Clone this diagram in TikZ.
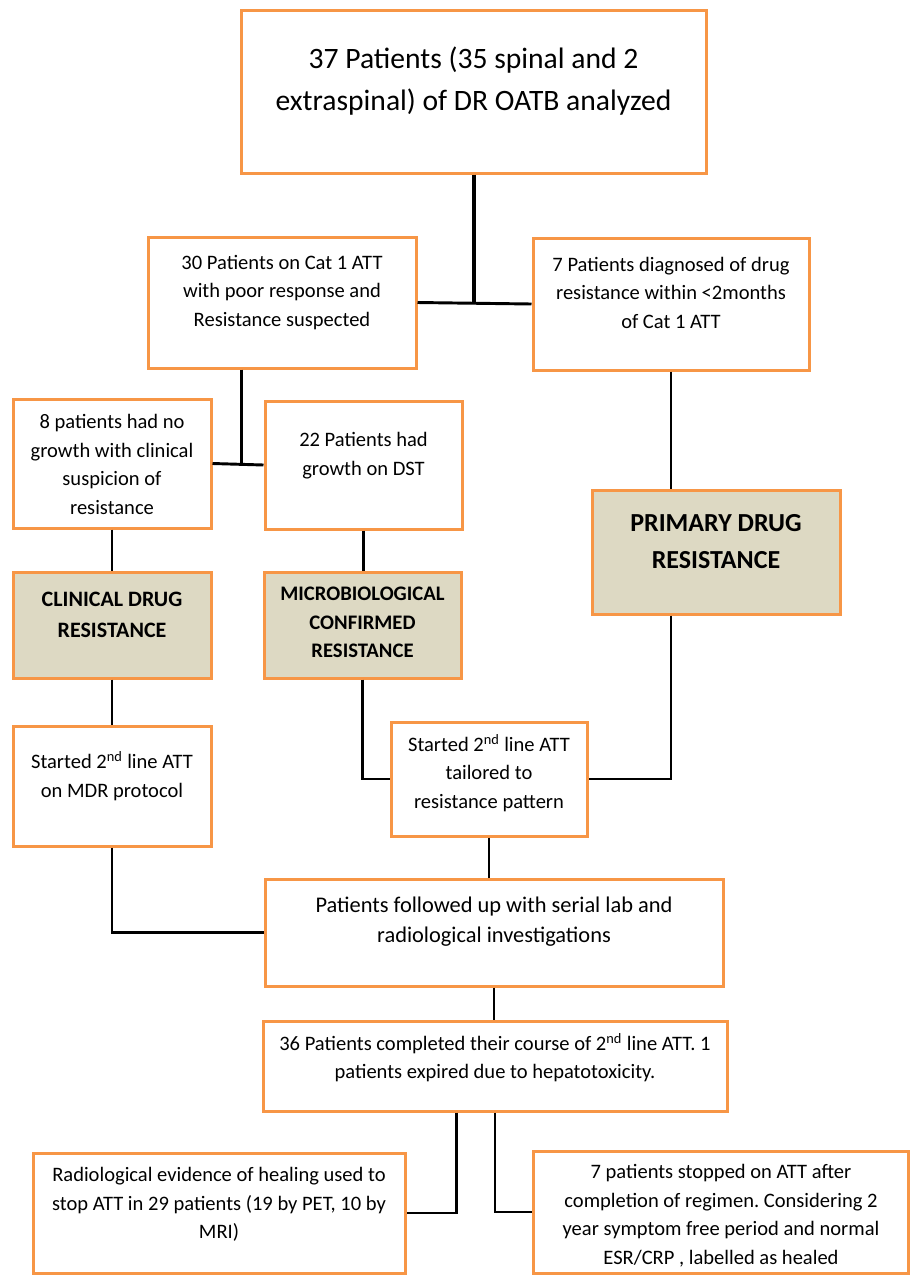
\documentclass[tikz,border=0pt]{standalone}
\usepackage{fontspec}
\setmainfont{Carlito}
\frenchspacing
\usetikzlibrary{fit,calc}
\definecolor{boxorange}{HTML}{F79646}
\definecolor{boxtan}{HTML}{DDD9C3}
\begin{document}
\begin{tikzpicture}[x=0.75pt,y=-0.75pt,
  box/.style={draw=boxorange,line width=2.25pt,inner sep=0pt,fill=white},
  tanbox/.style={box,fill=boxtan},
  txt/.style={align=center,inner sep=0pt,font=\fontsize{15.4}{21.4}\selectfont},
  bigtxt/.style={align=center,inner sep=0pt,font=\fontsize{22.2}{31.5}\selectfont},
  boldtxt/.style={align=center,inner sep=0pt,font=\bfseries\fontsize{16.5}{23.2}\selectfont},
  conn/.style={draw=black,line width=1.6pt},
  thickconn/.style={draw=black,line width=2.6pt}]
\useasboundingbox (0,0) rectangle (912,1275);
% boxes
\node[box,fit={(241,10) (706,173)}] (b1) {};
\node[box,fit={(148,237) (416,368)}] (b2) {};
\node[box,fit={(533,238) (809,370)}] (b3) {};
\node[box,fit={(13,399) (211,528)}] (b4) {};
\node[box,fit={(265,401) (462,529)}] (b5) {};
\node[tanbox,fit={(592,490) (840,614)}] (b6) {};
\node[tanbox,fit={(13,572) (211,678)}] (b7) {};
\node[tanbox,fit={(264,572) (461,678)}] (b8) {};
\node[box,fit={(13,726) (211,846)}] (b9) {};
\node[box,fit={(391,722) (587,836)}] (b10) {};
\node[box,fit={(265,879) (723,986)}] (b11) {};
\node[box,fit={(263,1021) (727,1111)}] (b12) {};
\node[box,fit={(33,1153) (405,1273)}] (b13) {};
\node[box,fit={(533,1151) (908,1273)}] (b14) {};
% texts
\node[bigtxt] (t1) at (473.5,81) {37 Patients (35 spinal and 2\\extraspinal) of DR OATB analyzed};
\node[txt] (t2) at (282,292.5) {30 Patients on Cat 1 ATT\\with poor response and\\Resistance suspected};
\node[txt] (t3) at (671,292.5) {7 Patients diagnosed of drug\\resistance within <2months\\of Cat 1 ATT};
\node[txt] (t4) at (112,464.5) {8 patients had no\\growth with clinical\\suspicion of\\resistance};
\node[txt] (t5) at (363.5,455.5) {22 Patients had\\growth on DST};
\node[boldtxt,font=\bfseries\fontsize{19.5}{27.7}\selectfont] (t6) at (716,541.5) {PRIMARY DRUG\\RESISTANCE};
\node[boldtxt] (t7) at (112,614.5) {CLINICAL DRUG\\RESISTANCE};
\node[boldtxt,font=\bfseries\fontsize{15.5}{21.4}\selectfont] (t8) at (362.5,622.5) {MICROBIOLOGICAL\\CONFIRMED\\RESISTANCE};
\node[txt] (t9) at (112,776) {Started 2\textsuperscript{nd} line ATT\\on MDR protocol};
\node[txt] (t10) at (489,773) {Started 2\textsuperscript{nd} line ATT\\tailored to\\resistance pattern};
\node[txt,font=\fontsize{16.8}{22.5}\selectfont] (t11) at (494,922) {Patients followed up with serial lab and\\radiological investigations};
\node[txt] (t12) at (495,1057.5) {36 Patients completed their course of 2\textsuperscript{nd} line ATT. 1\\patients expired due to hepatotoxicity.};
\node[txt] (t13) at (219,1204.5) {Radiological evidence of healing used to\\stop ATT in 29 patients (19 by PET, 10 by\\MRI)};
\node[txt] (t14) at (721,1215.5) {7 patients stopped on ATT after\\completion of regimen. Considering 2\\year symptom free period and normal\\ESR/CRP , labelled as healed};
% connectors
\draw[thickconn,line width=3pt] (b1.south) -- (b1.south |- b2.east);
\draw[thickconn,line width=2.2pt] (b2.east) -- (b3.west);
\coordinate (c2) at ($(b2.south west)!0.35!(b2.south east)$);
\draw[thickconn,line width=2.4pt] (c2) -- (c2 |- b4.east);
\draw[thickconn,line width=2.2pt] (b4.east) -- (b5.west);
\draw[conn] (b3.south) -- (b3.south |- b6.north);
\draw[conn] (b4.south) -- (b4.south |- b7.north);
\draw[conn] (b5.south) -- (b5.south |- b8.north);
\draw[conn] (b7.south) -- (b7.south |- b9.north);
\draw[conn] (b8.south) |- (b10.west);
\draw[conn] (b6.south -| b3.south) |- (b10.east);
\draw[conn] (b10.south) -- (b10.south |- b11.north);
\draw[conn] (b9.south) |- (b11.west);
\draw[conn] (b11.south) -- (b11.south |- b12.north);
\coordinate (c12) at ($(b12.south west)!0.418!(b12.south east)$);
\draw[thickconn,line width=2.2pt] (c12) |- (b13.east);
\draw[thickconn,line width=2.2pt] (b12.south) |- (b14.west);
\end{tikzpicture}
\end{document}
